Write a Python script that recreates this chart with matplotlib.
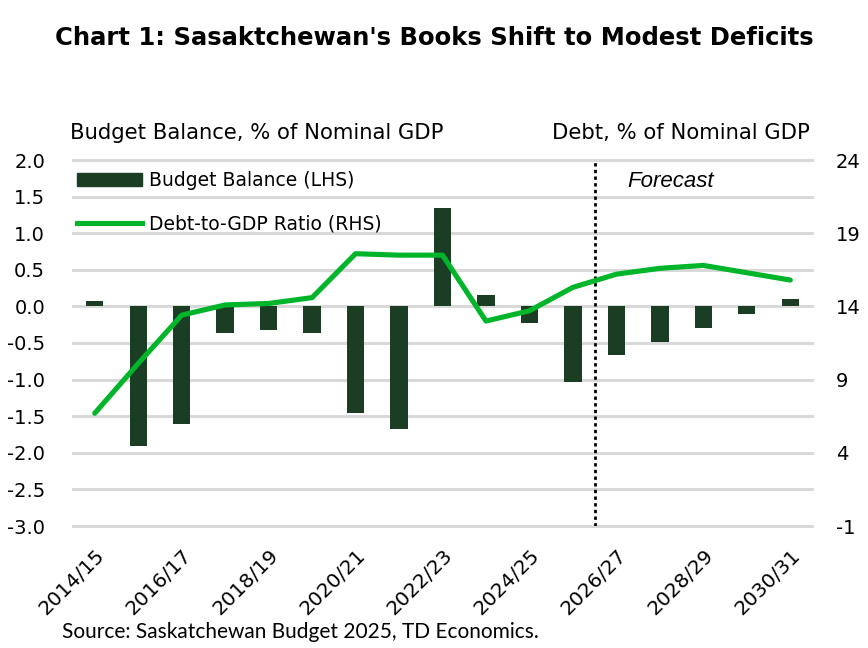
import matplotlib
matplotlib.use("Agg")
import matplotlib.pyplot as plt
from matplotlib.lines import Line2D
from matplotlib.patches import Patch

years = ["2014/15", "2015/16", "2016/17", "2017/18", "2018/19", "2019/20", "2020/21",
         "2021/22", "2022/23", "2023/24", "2024/25", "2025/26", "2026/27", "2027/28",
         "2028/29", "2029/30", "2030/31"]
budget_balance = [0.07, -1.91, -1.61, -0.37, -0.32, -0.37, -1.45, -1.67, 1.34, 0.16,
                  -0.22, -1.03, -0.67, -0.48, -0.29, -0.10, 0.10]
debt_to_gdp = [6.7, 10.1, 13.4, 14.1, 14.2, 14.6, 17.6, 17.5, 17.5, 13.0, 13.7, 15.3,
               16.2, 16.6, 16.8, 16.3, 15.8]
left_ticks = [2.0, 1.5, 1.0, 0.5, 0.0, -0.5, -1.0, -1.5, -2.0, -2.5, -3.0]
right_ticks = [24, 19, 14, 9, 4, -1]

FONT = "DejaVu Sans"
BAR_C = "#1a3d24"
LINE_C = "#00b52a"
GRID_C = "#d9d9d9"

fig = plt.figure(figsize=(8.68, 6.48), dpi=100)
ax = fig.add_axes([73/868, 1-526/648, (812-73)/868, (526-160)/648])
ax2 = ax.twinx()

x = list(range(len(years)))
ax.bar(x, budget_balance, width=0.4, color=BAR_C, zorder=3)
ax.set_ylim(-3.0, 2.0)
ax.set_xlim(-0.5, len(years) - 0.5)
ax.set_yticks(left_ticks)
ax.set_yticklabels([f"{v:.1f}" for v in left_ticks], fontsize=14, family=FONT)
ax.yaxis.grid(True, color=GRID_C, linewidth=2.2, zorder=0)
for gl in ax.get_ygridlines():
    gl.set_clip_on(False)
ax.set_axisbelow(True)
ax.set_xticks(x[::2])
ax.set_xticklabels(years[::2], rotation=45, ha="right", rotation_mode="anchor",
                   fontsize=14.5, family=FONT)
ax.tick_params(axis="x", length=0, pad=14)
ax.tick_params(axis="y", length=0, pad=20)
for s in ax.spines.values():
    s.set_visible(False)

ax2.plot(x, debt_to_gdp, color=LINE_C, linewidth=3.7, zorder=4, solid_capstyle="round")
ax2.set_ylim(-1, 24)
ax2.set_yticks(right_ticks)
ax2.set_yticklabels([str(v) for v in right_ticks], fontsize=14, family=FONT)
ax2.tick_params(axis="y", length=0, pad=17)
for s in ax2.spines.values():
    s.set_visible(False)

ax.axvline(11.5, color="black", linestyle=(0, (1.2, 1.2)), linewidth=2, zorder=5)
ax.text(12.25, 1.71, "Forecast", fontsize=16, style="italic", family="Liberation Sans",
        va="center", ha="left")

handles = [Patch(color=BAR_C), Line2D([0], [0], color=LINE_C, linewidth=3.7)]
leg = ax.legend(handles, ["Budget Balance (LHS)", "Debt-to-GDP Ratio (RHS)"],
                loc="upper left", bbox_to_anchor=(-0.005, 0.99), frameon=False,
                prop={"family": FONT, "size": 13.5}, handlelength=3.5, handleheight=0.7,
                labelspacing=1.3, handletextpad=0.35, borderaxespad=0.0)

fig.text(434/868, 1-38/648, "Chart 1: Sasaktchewan's Books Shift to Modest Deficits",
         ha="center", va="center", fontsize=17.5, fontweight="bold", family=FONT)
fig.text(70/868, 1-133/648, "Budget Balance, % of Nominal GDP", ha="left", va="center",
         fontsize=15.2, family=FONT)
fig.text(810/868, 1-133/648, "Debt, % of Nominal GDP", ha="right", va="center",
         fontsize=15.2, family=FONT)
fig.text(62/868, 1-632/648, "Source: Saskatchewan Budget 2025, TD Economics.", ha="left",
         va="center", fontsize=15, family="Lato")

fig.savefig("out.png", dpi=100)
